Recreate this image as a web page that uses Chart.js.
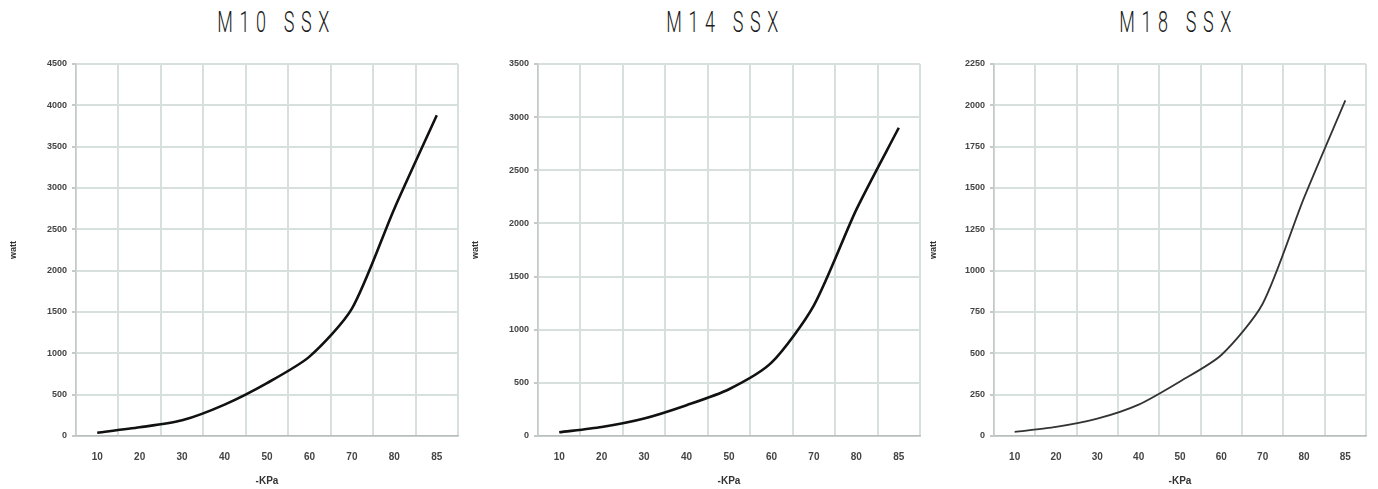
<!DOCTYPE html>
<html>
<head>
<meta charset="utf-8">
<script src="https://cdn.jsdelivr.net/npm/chart.js@4.4.0/dist/chart.umd.min.js"></script>
<style>
  html, body { margin: 0; padding: 0; background: #fff; }
  body { width: 1378px; height: 489px; position: relative; overflow: hidden; }
  .ttl { position: absolute; top: 4px; width: 200px; text-align: center; }
  .ttl span { display: inline-block; font-family: Roboto, "DejaVu Sans", sans-serif; font-weight: 300; font-size: 30px;
              letter-spacing: 11px; padding-left: 11px; color: #1a1a1a; transform: scaleX(0.6); transform-origin: center; white-space: pre; }
  .box { position: absolute; top: 40px; height: 449px; }
</style>
</head>
<body>
<div class="ttl" style="left:169px"><span id="t1"></span></div>
<div class="ttl" style="left:618px"><span id="t2"></span></div>
<div class="ttl" style="left:1071px"><span id="t3"></span></div>
<div class="box" style="left:0px;width:470px"><canvas id="c1"></canvas></div>
<div class="box" style="left:462px;width:470px"><canvas id="c2"></canvas></div>
<div class="box" style="left:920px;width:458px"><canvas id="c3"></canvas></div>
<script>
// -KPa categories, same for all three fans
var kpa = ['10', '20', '30', '40', '50', '60', '70', '80', '85'];

var titles = ['M10 SSX', 'M14 SSX', 'M18 SSX'];

// watt values
var m10Watt = [40, 105, 190, 380, 640, 960, 1540, 2750, 3880];
var m14Watt = [35, 85, 165, 290, 440, 690, 1230, 2130, 2900];
var m18Watt = [25, 55, 105, 190, 330, 490, 800, 1440, 2030];

// y axis ranges (max, step)
var yMax = [4500, 3500, 2250];
var yStep = [500, 500, 250];

var xTitle = '-KPa';
var yTitle = 'watt';

document.getElementById('t1').textContent = titles[0];
document.getElementById('t2').textContent = titles[1];
document.getElementById('t3').textContent = titles[2];

function drawChart(id, values, max, step, axisWidth, padRight, lineW, lineColor) {
    var ctx = document.getElementById(id).getContext('2d');
    return new Chart(ctx, {
        type: 'line',
        data: {
            labels: kpa,
            datasets: [{
                data: values,
                borderColor: lineColor,
                borderWidth: lineW,
                pointRadius: 0,
                tension: 0.25,
                fill: false
            }]
        },
        options: {
            responsive: true,
            maintainAspectRatio: false,
            animation: false,
            layout: { padding: { top: 24, right: padRight, left: 0, bottom: 0 } },
            plugins: { legend: { display: false }, tooltip: { enabled: false } },
            scales: {
                x: {
                    offset: true,
                    grid: { offset: true, color: '#d8e0dd', lineWidth: 2, drawTicks: false },
                    border: { color: '#b9bebc', width: 1.5 },
                    ticks: { padding: 15, color: '#444', font: { family: 'Liberation Sans', size: 10, weight: 'bold' } },
                    title: { display: true, text: xTitle, color: '#333', padding: { top: 0, bottom: 2 },
                             font: { family: 'Liberation Sans', size: 10, weight: 'bold' } },
                    afterFit: function (scale) { scale.height = 53; }
                },
                y: {
                    min: 0,
                    max: max,
                    grid: { color: '#d8e0dd', lineWidth: 2, tickLength: 4, tickColor: '#c4cac8' },
                    border: { color: '#c4cac8', width: 1.5 },
                    ticks: {
                        stepSize: step, padding: 5, color: '#444',
                        font: { family: 'Liberation Sans', size: 9, weight: 'bold' },
                        callback: function (v) { return String(v); }
                    },
                    title: { display: true, text: yTitle, color: '#333', padding: { top: 8, bottom: 0 },
                             font: { family: 'Liberation Sans', size: 9, weight: 'bold' } },
                    afterFit: function (scale) { scale.width = axisWidth; }
                }
            }
        }
    });
}

drawChart('c1', m10Watt, yMax[0], yStep[0], 76, 12, 2.6, '#111');
drawChart('c2', m14Watt, yMax[1], yStep[1], 76, 12, 2.6, '#111');
drawChart('c3', m18Watt, yMax[2], yStep[2], 74, 12, 1.8, '#333');
</script>
</body>
</html>
